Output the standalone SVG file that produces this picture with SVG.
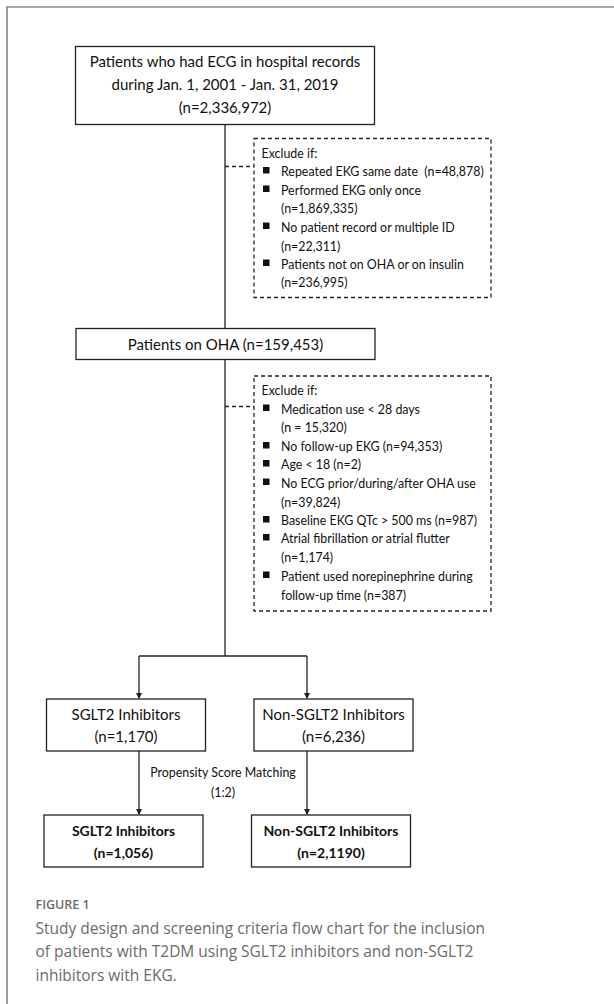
<svg xmlns="http://www.w3.org/2000/svg" width="614" height="1004" viewBox="0 0 614 1004">
<defs>
<style>
.box{fill:#fff;stroke:#222;stroke-width:1.3}
.dbox{fill:#fff;stroke:#222;stroke-width:1.3;stroke-dasharray:4 3}
.ln{fill:none;stroke:#222;stroke-width:1.3}
.dln{fill:none;stroke:#222;stroke-width:1.3;stroke-dasharray:4 3}
.t{font-family:Lato,"Liberation Sans",sans-serif;fill:#111}
.big{font-size:15px}
.sm{font-size:12.4px}
.c{text-anchor:middle}
.b{font-weight:bold;font-size:14px}
.cap{font-family:"Open Sans","Liberation Sans",sans-serif;fill:#6b6b6b}
</style>
<marker id="ah" markerWidth="6" markerHeight="6" refX="5" refY="3" orient="auto" markerUnits="userSpaceOnUse">
<path d="M0,0 L6,3 L0,6 z" fill="#222"/>
</marker>
</defs>
<rect width="614" height="1004" fill="#fff"/>
<path d="M7,1004 V7 H614" fill="none" stroke="#888" stroke-width="1.6"/>

<g id="connectors">
<path class="ln" d="M225,124 V656"/>
<path class="dln" d="M225,166.5 H254"/>
<path class="dln" d="M225,406.5 H254"/>
<path class="ln" d="M139,656 H307"/>
<path class="ln" d="M139,656 V698" marker-end="url(#ah)"/>
<path class="ln" d="M307,656 V698" marker-end="url(#ah)"/>
<path class="ln" d="M139,751 V814" marker-end="url(#ah)"/>
<path class="ln" d="M307,751 V814" marker-end="url(#ah)"/>
<text class="t sm c" x="223" y="777">Propensity Score Matching</text>
<text class="t sm c" x="223" y="796.5">(1:2)</text>
</g>

<g id="start">
<rect class="box" x="75.5" y="46.5" width="299" height="78"/>
<text class="t big c" x="225" y="67">Patients who had ECG in hospital records</text>
<text class="t big c" x="225" y="90">during Jan. 1, 2001 - Jan. 31, 2019</text>
<text class="t big c" x="225" y="113">(n=2,336,972)</text>
</g>

<g id="exclude1">
<rect class="dbox" x="254" y="138.5" width="237" height="159"/>
<text class="t sm" x="261.5" y="158">Exclude if:</text>
<rect x="263" y="167" width="6.5" height="6.5" fill="#111"/>
<text class="t sm" x="281" y="176" xml:space="preserve">Repeated EKG same date  (n=48,878)</text>
<rect x="263" y="185.5" width="6.5" height="6.5" fill="#111"/>
<text class="t sm" x="281" y="194.5">Performed EKG only once</text>
<text class="t sm" x="281" y="213">(n=1,869,335)</text>
<rect x="263" y="222.5" width="6.5" height="6.5" fill="#111"/>
<text class="t sm" x="281" y="231.5">No patient record or multiple ID</text>
<text class="t sm" x="281" y="250.5">(n=22,311)</text>
<rect x="263" y="259.5" width="6.5" height="6.5" fill="#111"/>
<text class="t sm" x="281" y="268.5">Patients not on OHA or on insulin</text>
<text class="t sm" x="281" y="287">(n=236,995)</text>
</g>

<g id="oha">
<rect class="box" x="76" y="328.5" width="299" height="31"/>
<text class="t big c" x="225.5" y="349.5">Patients on OHA (n=159,453)</text>
</g>

<g id="exclude2">
<rect class="dbox" x="254" y="376" width="237" height="235"/>
<text class="t sm" x="261.5" y="395">Exclude if:</text>
<rect x="263" y="404.5" width="6.5" height="6.5" fill="#111"/>
<text class="t sm" x="281" y="413.5">Medication use &lt; 28 days</text>
<text class="t sm" x="281" y="432">(n = 15,320)</text>
<rect x="263" y="442" width="6.5" height="6.5" fill="#111"/>
<text class="t sm" x="281" y="451">No follow-up EKG (n=94,353)</text>
<rect x="263" y="460" width="6.5" height="6.5" fill="#111"/>
<text class="t sm" x="281" y="469">Age &lt; 18 (n=2)</text>
<rect x="263" y="478.5" width="6.5" height="6.5" fill="#111"/>
<text class="t sm" x="281" y="487.5">No ECG prior/during/after OHA use</text>
<text class="t sm" x="281" y="506.5">(n=39,824)</text>
<rect x="263" y="516" width="6.5" height="6.5" fill="#111"/>
<text class="t sm" x="281" y="525">Baseline EKG QTc &gt; 500 ms (n=987)</text>
<rect x="263" y="534" width="6.5" height="6.5" fill="#111"/>
<text class="t sm" x="281" y="543">Atrial fibrillation or atrial flutter</text>
<text class="t sm" x="281" y="562">(n=1,174)</text>
<rect x="263" y="571.5" width="6.5" height="6.5" fill="#111"/>
<text class="t sm" x="281" y="580.5">Patient used norepinephrine during</text>
<text class="t sm" x="281" y="599.5">follow-up time (n=387)</text>
</g>

<g id="sglt2">
<rect class="box" x="46.5" y="699" width="159" height="52"/>
<text class="t big c" x="126" y="720">SGLT2 Inhibitors</text>
<text class="t big c" x="126" y="742">(n=1,170)</text>
</g>

<g id="nonsglt2">
<rect class="box" x="254" y="699" width="159" height="52"/>
<text class="t big c" x="333.5" y="720">Non-SGLT2 Inhibitors</text>
<text class="t big c" x="333.5" y="742">(n=6,236)</text>
</g>

<g id="sglt2m">
<rect class="box" x="44" y="815" width="159" height="52"/>
<text class="t c b" x="123.5" y="836">SGLT2 Inhibitors</text>
<text class="t c b" x="123.5" y="858">(n=1,056)</text>
</g>

<g id="nonsglt2m">
<rect class="box" x="251.5" y="815" width="159" height="52"/>
<text class="t c b" x="331" y="836">Non-SGLT2 Inhibitors</text>
<text class="t c b" x="331" y="858">(n=2,1190)</text>
</g>

<g id="caption">
<text class="cap" x="35.5" y="908.5" font-size="12.5" font-weight="600" fill="#777">FIGURE 1</text>
<text class="cap" x="35.5" y="933.5" font-size="15.5">Study design and screening criteria flow chart for the inclusion</text>
<text class="cap" x="35.5" y="957" font-size="15.5">of patients with T2DM using SGLT2 inhibitors and non-SGLT2</text>
<text class="cap" x="35.5" y="980.5" font-size="15.5">inhibitors with EKG.</text>
</g>
</svg>
